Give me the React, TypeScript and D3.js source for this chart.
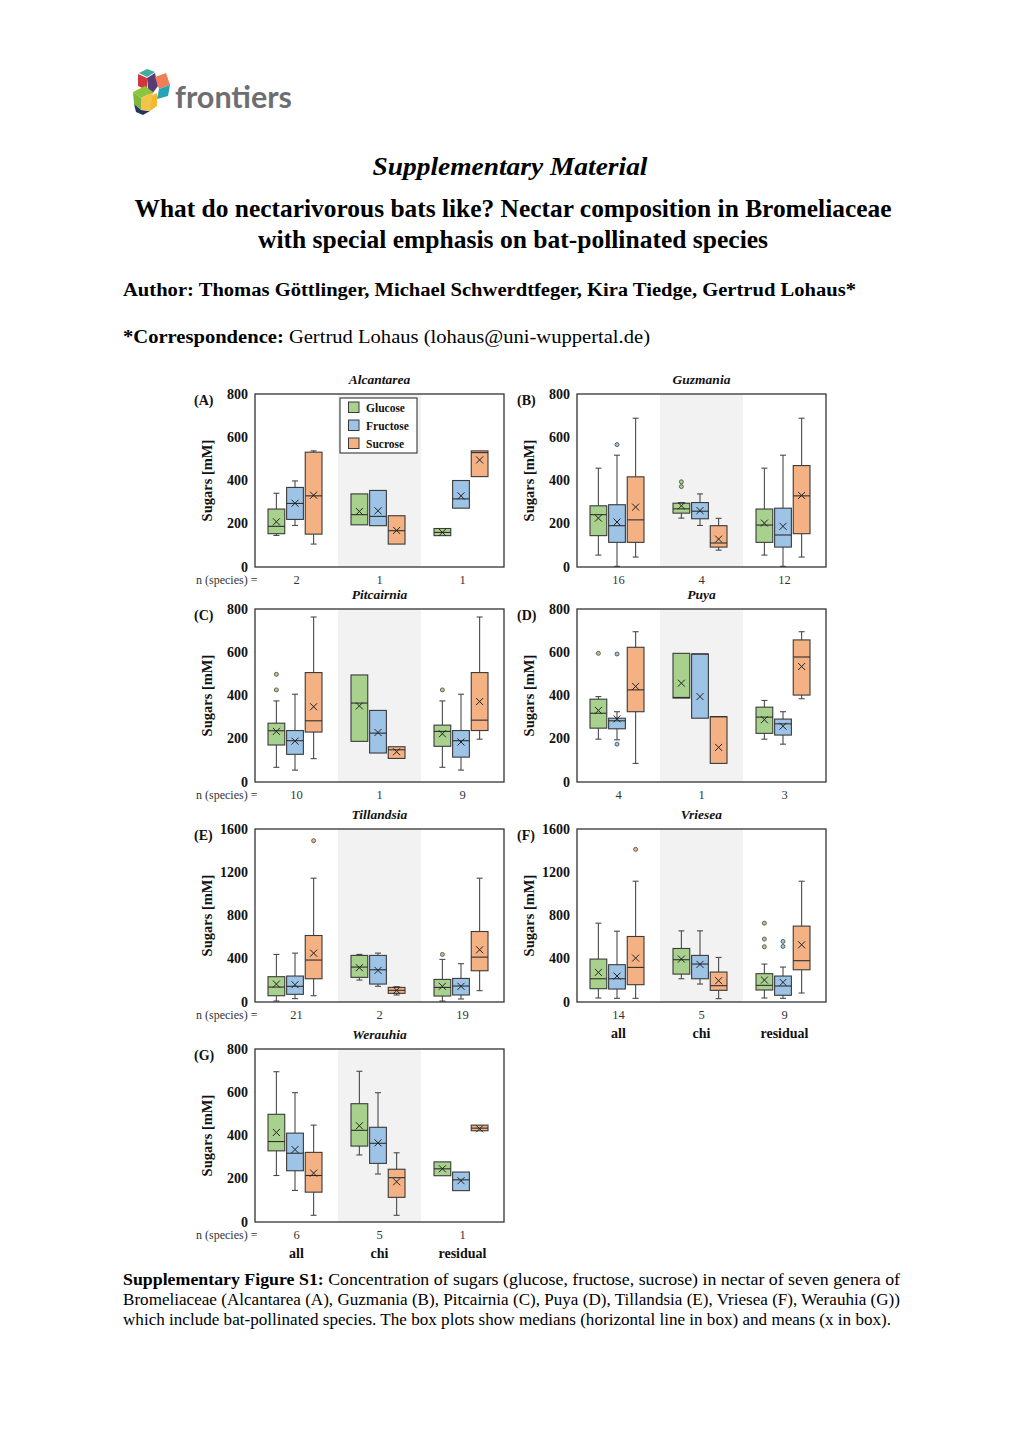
import React from "react";
import * as d3 from "d3";

type Stat = [number | null, number, number, number, number | null, number, number[]?];

// ---------- data ----------
const sugars = ["Glucose", "Fructose", "Sucrose"];
const sugarFill = ["#a9d18e", "#9dc3e6", "#f4b183"];

const ticks800 = [0, 200, 400, 600, 800];
const ticks1600 = [0, 400, 800, 1200, 1600];
const subgroupLabels = ["all", "chi", "residual"];

// [whiskerLow, Q1, median, Q3, whiskerHigh, mean, outliers]
const alcantarea: Stat[][] = [
  [[146, 154, 188, 268, 341, 209], [192, 220, 294, 368, 398, 295], [106, 152, 329, 531, 537, 332]],
  [[null, 195, 242, 338, null, 257], [null, 191, 234, 354, null, 260], [null, 106, 168, 237, null, 169]],
  [[null, 145, 160, 178, null, 160], [null, 272, 315, 400, null, 329], [null, 418, 529, 537, null, 495]],
];
const guzmania: Stat[][] = [
  [[55, 145, 242, 283, 457, 226], [3, 114, 191, 288, 517, 208, [566]], [46, 114, 218, 417, 688, 277]],
  [[226, 249, 269, 295, 298, 283, [372, 394]], [192, 223, 258, 298, 338, 261], [78, 92, 111, 191, 225, 129]],
  [[55, 114, 194, 268, 457, 203], [3, 92, 148, 272, 517, 188], [46, 154, 329, 469, 688, 331]],
];
const pitcairnia: Stat[][] = [
  [[68, 171, 237, 272, 375, 234, [426, 498]], [55, 128, 191, 238, 406, 189], [108, 231, 283, 506, 763, 348]],
  [[null, 188, 365, 495, null, 352], [null, 134, 226, 331, null, 229], [null, 109, 149, 163, null, 140]],
  [[68, 165, 234, 263, 375, 223, [426]], [55, 115, 191, 238, 406, 185], [198, 238, 286, 506, 763, 372]],
];
const puya: Stat[][] = [
  [[198, 249, 318, 383, 395, 331, [595]], [195, 246, 283, 295, 325, 292, [175, 592]], [86, 325, 426, 623, 695, 442]],
  [[null, 388, 391, 595, null, 457], [null, 295, 592, 592, null, 395], [null, 86, 302, 302, null, 160]],
  [[198, 225, 300, 346, 377, 288], [175, 217, 269, 291, 325, 258], [385, 402, 578, 657, 695, 534]],
];
const tillandsia: Stat[][] = [
  [[9, 58, 138, 234, 440, 166], [31, 71, 145, 240, 452, 160], [58, 215, 388, 615, 1145, 452, [1492]]],
  [[203, 228, 323, 431, 440, 317], [145, 166, 298, 431, 452, 292], [65, 80, 108, 135, 142, 108]],
  [[9, 55, 135, 209, 394, 145, [440]], [28, 65, 148, 218, 354, 145], [105, 289, 415, 652, 1145, 483]],
];
const vriesea: Stat[][] = [
  [[37, 123, 215, 397, 729, 274], [34, 120, 215, 345, 655, 240], [34, 160, 320, 606, 1117, 406, [1412]]],
  [[215, 258, 391, 495, 658, 397], [166, 215, 351, 431, 658, 348], [31, 108, 151, 277, 412, 197]],
  [[37, 111, 154, 262, 351, 203, [511, 582, 729]], [34, 62, 148, 240, 323, 182, [514, 560]], [83, 298, 382, 702, 1117, 529]],
];
const werauhia: Stat[][] = [
  [[215, 329, 372, 498, 695, 414], [146, 237, 318, 411, 598, 335], [31, 138, 215, 322, 448, 226]],
  [[310, 351, 424, 547, 697, 445], [222, 271, 364, 438, 598, 366], [31, 114, 205, 244, 320, 186]],
  [[null, 214, 246, 278, null, 246], [null, 145, 195, 231, null, 191], [null, 422, 434, 448, null, 431]],
];

const nAlcantarea = ["2", "1", "1"];
const nGuzmania = ["16", "4", "12"];
const nPitcairnia = ["10", "1", "9"];
const nPuya = ["4", "1", "3"];
const nTillandsia = ["21", "2", "19"];
const nVriesea = ["14", "5", "9"];
const nWerauhia = ["6", "5", "1"];

// ---------- layout ----------
const W = 249;
const H = 173;
const SERIF = "'Liberation Serif', 'Times New Roman', serif";

type PanelDef = {
  title: string; letter: string; stats: Stat[][]; n: string[]; ticks: number[];
  left: number; top: number; leftCol: boolean; groupLabels?: string[]; legend?: boolean;
};

const panels: PanelDef[] = [
  { title: "Alcantarea", letter: "(A)", stats: alcantarea, n: nAlcantarea, ticks: ticks800, left: 255, top: 394, leftCol: true, legend: true },
  { title: "Guzmania", letter: "(B)", stats: guzmania, n: nGuzmania, ticks: ticks800, left: 577, top: 394, leftCol: false },
  { title: "Pitcairnia", letter: "(C)", stats: pitcairnia, n: nPitcairnia, ticks: ticks800, left: 255, top: 609, leftCol: true },
  { title: "Puya", letter: "(D)", stats: puya, n: nPuya, ticks: ticks800, left: 577, top: 609, leftCol: false },
  { title: "Tillandsia", letter: "(E)", stats: tillandsia, n: nTillandsia, ticks: ticks1600, left: 255, top: 829, leftCol: true },
  { title: "Vriesea", letter: "(F)", stats: vriesea, n: nVriesea, ticks: ticks1600, left: 577, top: 829, leftCol: false, groupLabels: subgroupLabels },
  { title: "Werauhia", letter: "(G)", stats: werauhia, n: nWerauhia, ticks: ticks800, left: 255, top: 1049, leftCol: true, groupLabels: subgroupLabels },
];

function Panel({ p }: { p: PanelDef }) {
  const yMax = p.ticks[p.ticks.length - 1];
  const y = d3.scaleLinear().domain([0, yMax]).range([p.top + H, p.top]);
  const x = d3.scaleBand<number>().domain([0, 1, 2]).range([p.left, p.left + W]);
  const inner = d3.scaleBand<number>().domain([0, 1, 2]).range([-28.5, 25.5]).paddingInner(0.1);
  const bw = inner.bandwidth();
  const bottom = p.top + H;
  const labelX = p.leftCol ? 207 : 529;
  const letterX = p.leftCol ? 194 : 517;
  return (
    <g>
      <rect x={x(1)} y={p.top} width={x.bandwidth()} height={H} fill="#f2f2f2" />
      {p.stats.map((grp, gi) =>
        grp.map((s, si) => {
          const cx = (x(gi) as number) + x.bandwidth() / 2 + (inner(si) as number) + bw / 2;
          const [lo, q1, med, q3, hi, mean, outl] = s;
          const x0 = cx - bw / 2;
          return (
            <g key={`${gi}-${si}`}>
              {hi !== null && (
                <g stroke="#4a4a4a" strokeWidth={1.1}>
                  <line x1={cx} x2={cx} y1={y(hi)} y2={y(q3)} />
                  <line x1={cx - 3} x2={cx + 3} y1={y(hi)} y2={y(hi)} />
                </g>
              )}
              {lo !== null && (
                <g stroke="#4a4a4a" strokeWidth={1.1}>
                  <line x1={cx} x2={cx} y1={y(q1)} y2={y(lo)} />
                  <line x1={cx - 3} x2={cx + 3} y1={y(lo)} y2={y(lo)} />
                </g>
              )}
              <rect x={x0} y={y(q3)} width={bw} height={Math.max(0.5, y(q1) - y(q3))}
                fill={sugarFill[si]} stroke="#3a3a3a" strokeWidth={1.1} />
              <line x1={x0} x2={x0 + bw} y1={y(med)} y2={y(med)} stroke="#2e2e2e" strokeWidth={1.1} />
              <g stroke="#222" strokeWidth={1}>
                <line x1={cx - 3.5} x2={cx + 3.5} y1={y(mean) - 3.5} y2={y(mean) + 3.5} />
                <line x1={cx - 3.5} x2={cx + 3.5} y1={y(mean) + 3.5} y2={y(mean) - 3.5} />
              </g>
              {(outl || []).map((o, oi) => (
                <circle key={oi} cx={cx} cy={y(o)} r={2} fill={sugarFill[si]} stroke="#444" strokeWidth={0.8} />
              ))}
            </g>
          );
        })
      )}
      <rect x={p.left} y={p.top} width={W} height={H} fill="none" stroke="#333" strokeWidth={1.3} />
      {p.ticks.map((t) => (
        <text key={t} x={p.left - 7} y={y(t)} dy="0.33em" textAnchor="end"
          fontFamily={SERIF} fontWeight="bold" fontSize={14} fill="#111">{t}</text>
      ))}
      <text transform={`translate(${labelX},${p.top + H / 2}) rotate(-90)`} textAnchor="middle" dy="0.35em"
        fontFamily={SERIF} fontWeight="bold" fontSize={14.5} fill="#111">Sugars [mM]</text>
      <text x={letterX} y={p.top + 11} fontFamily={SERIF} fontWeight="bold" fontSize={14} fill="#111">{p.letter}</text>
      <text x={p.left + W / 2} y={p.top - 10} textAnchor="middle" fontFamily={SERIF} fontWeight="bold"
        fontStyle="italic" fontSize={13.5} fill="#111">{p.title}</text>
      {p.leftCol && (
        <text x={196} y={bottom + 17} fontFamily={SERIF} fontSize={12} fill="#333">n (species) =</text>
      )}
      {p.n.map((n, i) => (
        <text key={i} x={(x(i) as number) + x.bandwidth() / 2} y={bottom + 17} textAnchor="middle"
          fontFamily={SERIF} fontSize={12.5} fill="#333">{n}</text>
      ))}
      {p.groupLabels && p.groupLabels.map((g, i) => (
        <text key={g} x={(x(i) as number) + x.bandwidth() / 2} y={bottom + 36} textAnchor="middle"
          fontFamily={SERIF} fontWeight="bold" fontSize={14} fill="#111">{g}</text>
      ))}
      {p.legend && (
        <g>
          <rect x={340} y={398} width={77} height={55} fill="#fff" stroke="#333" strokeWidth={1.1} />
          {sugars.map((s, i) => (
            <g key={s}>
              <rect x={348.5} y={402 + i * 18} width={10.5} height={10.5} fill={sugarFill[i]} stroke="#3a3a3a" strokeWidth={1} />
              <text x={366} y={407.5 + i * 18} dy="0.35em" fontFamily={SERIF} fontWeight="bold" fontSize={11.5} fill="#111">{s}</text>
            </g>
          ))}
        </g>
      )}
    </g>
  );
}

function Logo() {
  return (
    <g>
      <polygon points="139,73 147,69 155,72 147,77" fill="#3fae9c" />
      <polygon points="138,74 147,78 147,90 138,86" fill="#d2363d" />
      <polygon points="147,78 155,73 158,86 149,98" fill="#5b3a78" />
      <polygon points="155,77 166,73 170,85 159,89" fill="#ef7d57" />
      <polygon points="159,89 170,85 168,96 157,99" fill="#26a4b6" />
      <polygon points="133,92 145,86 153,92 141,98" fill="#8cc63f" />
      <polygon points="133,92 141,98 141,110 134,104" fill="#7fb83a" />
      <polygon points="149,97 157,93 157,106 150,111" fill="#f6b731" />
      <polygon points="134,104 141,110 150,111 143,115 136,112" fill="#233560" />
      <polygon points="141,98 153,92 150,111 141,110" fill="#f2c54a" />
      <text x={175} y={108} fontFamily="Lato, 'Open Sans', sans-serif" fontWeight="bold" fontSize={30}
        fill="#6d6e71" textLength={117} lengthAdjust="spacingAndGlyphs">frontiers</text>
    </g>
  );
}

export default function App() {
  return (
    <svg width={1020} height={1442} style={{ position: "absolute", left: 0, top: 0, background: "#fff" }}>
      <rect width={1020} height={1442} fill="#fff" />
      <Logo />
      <text x={510} y={175} textAnchor="middle" fontFamily={SERIF} fontWeight="bold" fontStyle="italic"
        fontSize={26} fill="#000" textLength={275} lengthAdjust="spacingAndGlyphs">Supplementary Material</text>
      <text x={513} y={217} textAnchor="middle" fontFamily={SERIF} fontWeight="bold" fontSize={26} fill="#000"
        textLength={757} lengthAdjust="spacingAndGlyphs">What do nectarivorous bats like? Nectar composition in Bromeliaceae</text>
      <text x={513} y={248} textAnchor="middle" fontFamily={SERIF} fontWeight="bold" fontSize={26} fill="#000"
        textLength={510} lengthAdjust="spacingAndGlyphs">with special emphasis on bat-pollinated species</text>
      <text x={123} y={296} fontFamily={SERIF} fontWeight="bold" fontSize={18.5} fill="#000"
        textLength={733} lengthAdjust="spacingAndGlyphs">Author: Thomas Göttlinger, Michael Schwerdtfeger, Kira Tiedge, Gertrud Lohaus*</text>
      <text x={123} y={343} fontFamily={SERIF} fontSize={18.5} fill="#000" textLength={527} lengthAdjust="spacingAndGlyphs">
        <tspan fontWeight="bold">*Correspondence:</tspan> Gertrud Lohaus (lohaus@uni-wuppertal.de)
      </text>
      {panels.map((p) => <Panel key={p.letter} p={p} />)}
      <text x={123} y={1285} fontFamily={SERIF} fontSize={16.5} fill="#000" textLength={777} lengthAdjust="spacingAndGlyphs">
        <tspan fontWeight="bold">Supplementary Figure S1:</tspan> Concentration of sugars (glucose, fructose, sucrose) in nectar of seven genera of
      </text>
      <text x={123} y={1305} fontFamily={SERIF} fontSize={16.5} fill="#000" textLength={777} lengthAdjust="spacingAndGlyphs">
        Bromeliaceae (Alcantarea (A), Guzmania (B), Pitcairnia (C), Puya (D), Tillandsia (E), Vriesea (F), Werauhia (G))
      </text>
      <text x={123} y={1325} fontFamily={SERIF} fontSize={16.5} fill="#000" textLength={768} lengthAdjust="spacingAndGlyphs">
        which include bat-pollinated species. The box plots show medians (horizontal line in box) and means (x in box).
      </text>
    </svg>
  );
}
